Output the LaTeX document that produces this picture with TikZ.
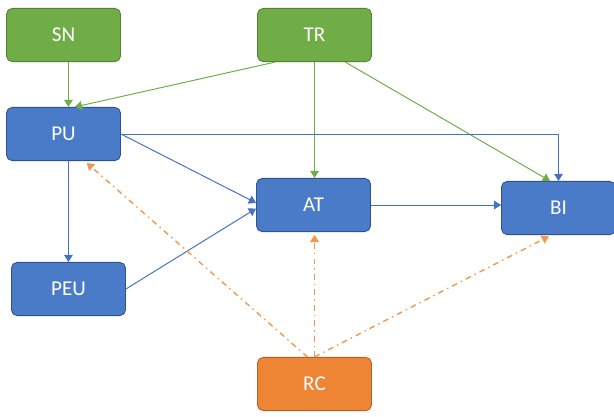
\documentclass[tikz,border=0pt]{standalone}
\usepackage{fontspec}
\setmainfont{Carlito}
\usetikzlibrary{arrows.meta,positioning}

\definecolor{fillgreen}{HTML}{70AD47}
\definecolor{drawgreen}{HTML}{548235}
\definecolor{fillblue}{HTML}{4A7BC8}
\definecolor{drawblue}{HTML}{2F528F}
\definecolor{fillorange}{HTML}{ED8535}
\definecolor{draworange}{HTML}{B6602A}
\definecolor{linegreen}{HTML}{70AD47}
\definecolor{lineblue}{HTML}{4472C4}
\definecolor{lineorange}{HTML}{F2974F}

\begin{document}
\begin{tikzpicture}[x=0.025cm, y=-0.025cm]
			\tikzstyle{Box}		= [rectangle, rounded corners=4pt, minimum width=2.85cm, minimum height=1.33cm, inner sep=0pt, text=white, font=\fontsize{15}{18}\selectfont, line width=0.6pt]
			\tikzstyle{Green}	= [fill=fillgreen, draw=drawgreen]
			\tikzstyle{Blue}	= [fill=fillblue, draw=drawblue]
			\tikzstyle{Orange}	= [fill=fillorange, draw=draworange]
			\tikzstyle{Tip}		= [-{Triangle[length=1.8mm, width=2.2mm]}]
			\tikzstyle{GL}		= [Tip, linegreen, line width=0.7pt]
			\tikzstyle{BL}		= [Tip, lineblue, line width=0.7pt]
			\tikzstyle{OL}		= [Tip, lineorange, line width=1pt, dash pattern=on 4pt off 3pt on 1pt off 3pt, shorten >=2pt]

			\useasboundingbox (0,0) rectangle (614,416);

			\node (SN) at (63.5,35) [Box][Green] {SN};
			\node (TR) at (314.5,35) [Box][Green] {TR};
			\node (PU) at (63.5,134) [Box][Blue] {PU};
			\node (AT) at (313.5,205) [Box][Blue] {AT};
			\node (BI) at (558.5,208) [Box][Blue] {BI};
			\node (PEU) at (68.5,289) [Box][Blue] {PEU};
			\node (RC) at (314.5,384) [Box][Orange] {RC};

			\draw [GL] ([xshift=3.5pt]SN.south) to ([xshift=3.5pt]PU.north);
			\draw [GL] ([xshift=13pt]TR.south west) to ([xshift=8pt]PU.north);
			\draw [GL] (TR.south) to (TR.south |- AT.north);
			\draw [GL] ([xshift=-19pt]TR.south east) to ([xshift=-6pt]BI.north);

			\draw [BL] (PU.east) -| (BI.north);
			\draw [BL] (PU.east) to ([yshift=1.5pt]AT.west);
			\draw [BL] ([xshift=3.5pt]PU.south) to ([xshift=3.5pt]PU.south |- PEU.north);
			\draw [BL] (PEU.east) to ([yshift=-2.5pt]AT.west);
			\draw [BL] (AT.east) to (AT.east -| BI.west);

			\draw [OL] ([xshift=-5pt]RC.north) to ([xshift=15pt]PU.south);
			\draw [OL] (RC.north) to (RC.north |- AT.south);
			\draw [OL] (RC.north) to ([xshift=-5pt]BI.south);
		\end{tikzpicture}
\end{document}
